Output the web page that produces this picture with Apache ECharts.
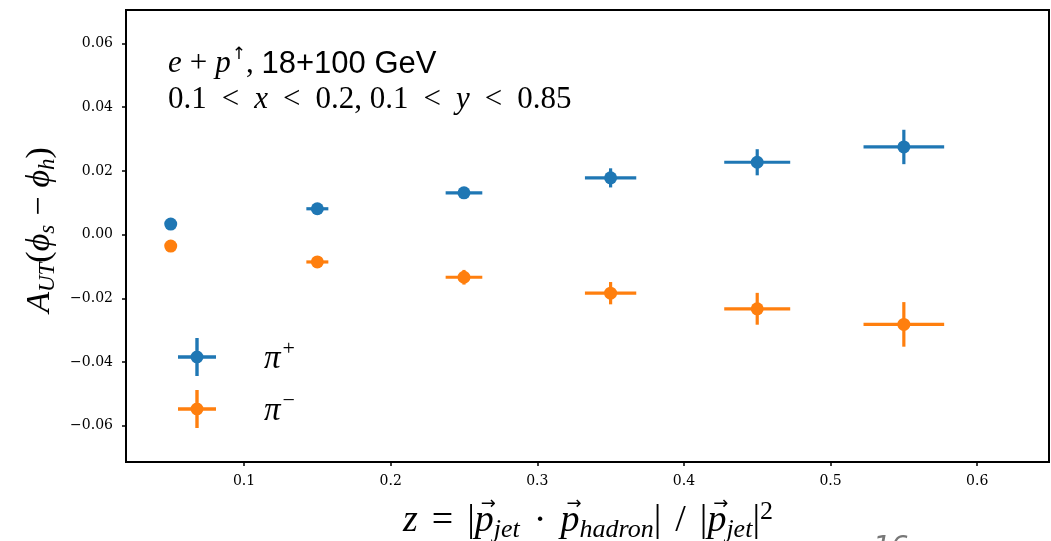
<!DOCTYPE html>
<html>
<head>
<meta charset="utf-8">
<script src="https://cdn.jsdelivr.net/npm/echarts@6/dist/echarts.min.js"></script>
<style>
html,body{margin:0;padding:0;background:#fff;}
#main{width:1051px;height:541px;}
</style>
</head>
<body>
<div id="main"></div>
<script>
// z bins and half widths
var zVals = [0.05, 0.15, 0.25, 0.35, 0.45, 0.55];
var zErr = [0.0025, 0.0075, 0.0125, 0.0175, 0.0225, 0.0275];
// pi+ asymmetry
var piPlusVals = [0.0033, 0.0081, 0.0131, 0.0178, 0.0227, 0.0275];
var piPlusErr = [0.0006, 0.0012, 0.0018, 0.0030, 0.0041, 0.0054];
// pi- asymmetry
var piMinusVals = [-0.0036, -0.0086, -0.0134, -0.0184, -0.0233, -0.0282];
var piMinusErr = [0.0007, 0.0014, 0.0023, 0.0035, 0.0050, 0.0070];
// tick labels
var xTicks = [0.1, 0.2, 0.3, 0.4, 0.5, 0.6];
var yTicks = [-0.06, -0.04, -0.02, 0.00, 0.02, 0.04, 0.06];

var blue = '#1f77b4', orange = '#ff7f0e';
var serif = 'Liberation Serif';
var tickFont = 'DejaVu Serif';

function buildData(ys, yerr){
	var out = [];
	for(var i=0;i<zVals.length;i++){
		out.push([zVals[i], ys[i], zErr[i], yerr[i]]);
	}
	return out;
}

// errorbar + dot
function renderErr(params, api){
	var x = api.value(0), y = api.value(1), xe = api.value(2), ye = api.value(3);
	var c = api.coord([x, y]);
	var l = api.coord([x - xe, y]), r = api.coord([x + xe, y]);
	var t = api.coord([x, y + ye]), b = api.coord([x, y - ye]);
	var color = api.visual('color');
	return {type:'group', children:[
		{type:'line', shape:{x1:l[0], y1:c[1], x2:r[0], y2:c[1]}, style:{stroke:color, lineWidth:3.2}},
		{type:'line', shape:{x1:c[0], y1:t[1], x2:c[0], y2:b[1]}, style:{stroke:color, lineWidth:3.2}},
		{type:'circle', shape:{cx:c[0], cy:c[1], r:6.5}, style:{fill:color}}
	]};
}

function fmtY(v){
	return v.toFixed(2).replace('-', '\u2212');
}

var iconPath = 'path://M0,17.3H38V20.7H0Z M17.3,0H20.7V38H17.3Z M25.5,19A6.5,6.5 0 1,1 12.5,19A6.5,6.5 0 1,1 25.5,19Z';

// rich text styles for math-like labels, size = main font size
function mathStyles(sz, binPad){
	var lh = Math.round(sz * 1.16), sb = Math.round(sz * 0.68);
	return {
		i:{fontFamily:serif, fontStyle:'italic', fontSize:sz, color:'#000', lineHeight:lh},
		r:{fontFamily:serif, fontSize:sz, color:'#000', lineHeight:lh},
		bin:{fontFamily:serif, fontSize:sz, color:'#000', lineHeight:lh, padding:[0,binPad,0,binPad]},
		rel:{fontFamily:serif, fontSize:sz, color:'#000', lineHeight:lh, padding:[0,15,0,15]},
		sub:{fontFamily:serif, fontStyle:'italic', fontSize:sb, color:'#000', lineHeight:lh, verticalAlign:'bottom'},
		sup:{fontFamily:serif, fontSize:sb, color:'#000', lineHeight:lh, verticalAlign:'top'},
		a:{fontFamily:'DejaVu Sans', fontSize:17, color:'#8b1a1a', lineHeight:lh, verticalAlign:'top', padding:[0,0,0,1]},
		s:{fontFamily:'Liberation Sans', fontSize:sz, color:'#000', lineHeight:lh}
	};
}
var noteRich = mathStyles(31, 8);
var yTitleRich = mathStyles(34, 9);
var xTitleRich = mathStyles(38, 14);

// measure a rich token the same way the canvas does
var measureCtx = document.createElement('canvas').getContext('2d');
function tokenWidth(rich, name, text){
	var st = rich[name];
	measureCtx.font = (st.fontStyle || 'normal') + ' normal ' + st.fontSize + 'px ' + st.fontFamily;
	var w = measureCtx.measureText(text).width;
	if(st.padding) w += st.padding[1] + st.padding[3];
	return w;
}

// x axis title, with vector arrows over the p's
var xTitleTokens = [['i','z'],['bin','='],['r','|'],['i','p',1],['sub','jet'],['bin','\u00b7'],['i','p',1],['sub','hadron'],['r','|'],['bin','/'],['r','|'],['i','p',1],['sub','jet'],['r','|'],['sup','2']];
var xTitleCx = 588, xTitleCy = 521;
function buildXTitle(){
	var txt = '', total = 0, arrows = [], i;
	for(i=0;i<xTitleTokens.length;i++){
		total += tokenWidth(xTitleRich, xTitleTokens[i][0], xTitleTokens[i][1]);
	}
	var x = xTitleCx - total/2;
	for(i=0;i<xTitleTokens.length;i++){
		var tk = xTitleTokens[i];
		var w = tokenWidth(xTitleRich, tk[0], tk[1]);
		txt += '{' + tk[0] + '|' + tk[1] + '}';
		if(tk[2]){
			arrows.push({type:'text', x:x + w/2 + 4, y:xTitleCy - 17, style:{
				text:'\u2192', fontFamily:'DejaVu Sans', fontSize:18, fill:'#000', align:'center', verticalAlign:'middle'}});
		}
		x += w;
	}
	return [{type:'text', x:xTitleCx, y:xTitleCy, style:{text:txt, rich:xTitleRich, align:'center', verticalAlign:'middle'}}].concat(arrows);
}

var chart = echarts.init(document.getElementById('main'));
var option = {
	animation:false,
	backgroundColor:'#fff',
	grid:{left:126, right:2, top:10, bottom:79, show:true, borderColor:'#000', borderWidth:2, backgroundColor:'transparent'},
	xAxis:{
		type:'value', min:0.0195, max:0.649,
		axisLine:{show:true, onZero:false, lineStyle:{color:'#000', width:2}},
		axisTick:{show:true, length:4, lineStyle:{color:'#000', width:1.5}, customValues:xTicks},
		axisLabel:{customValues:xTicks, margin:12, fontFamily:tickFont, fontSize:14, color:'#000',
			formatter:function(v){return v.toFixed(1);}},
		splitLine:{show:false}
	},
	yAxis:{
		type:'value', min:-0.0714, max:0.0705,
		axisLine:{show:true, onZero:false, lineStyle:{color:'#000', width:2}},
		axisTick:{show:true, length:4, lineStyle:{color:'#000', width:1.5}, customValues:yTicks},
		axisLabel:{customValues:yTicks, margin:13, fontFamily:tickFont, fontSize:14, color:'#000', formatter:fmtY},
		splitLine:{show:false}
	},
	legend:{
		orient:'vertical', left:173, top:333, itemWidth:38, itemHeight:38, itemGap:14,
		data:[{name:'pip', icon:iconPath}, {name:'pim', icon:iconPath}],
		formatter:function(name){
			return name === 'pip' ? '{g|}{p|\u03c0}{s|+}' : '{g|}{p|\u03c0}{s|\u2212}';
		},
		textStyle:{
			rich:{
				g:{width:43},
				p:{fontFamily:serif, fontStyle:'italic', fontSize:33, color:'#000', lineHeight:38, verticalAlign:'bottom'},
				s:{fontFamily:serif, fontSize:22, color:'#000', verticalAlign:'top', lineHeight:22, padding:[0,0,0,2]}
			}
		}
	},
	series:[
		{name:'pip', type:'custom', renderItem:renderErr, itemStyle:{color:blue}, data:buildData(piPlusVals, piPlusErr), encode:{x:0, y:1}},
		{name:'pim', type:'custom', renderItem:renderErr, itemStyle:{color:orange}, data:buildData(piMinusVals, piMinusErr), encode:{x:0, y:1}}
	],
	graphic:[
		{type:'text', left:168, top:46, style:{
			text:'{i|e}{bin|+}{i|p}{a|\u2191}{r|, }{s|18+100 GeV}\n{r|0.1}{rel|<}{i|x}{rel|<}{r|0.2, 0.1}{rel|<}{i|y}{rel|<}{r|0.85}',
			rich:noteRich}},
		{type:'text', x:40, y:230, rotation:Math.PI/2, style:{
			text:'{i|A}{sub|UT}{r|(}{i|\u03d5}{sub|s}{bin|\u2212}{i|\u03d5}{sub|h}{r|)}',
			rich:yTitleRich, align:'center', verticalAlign:'middle'}},
		{type:'text', x:873, y:535, style:{text:'16', fontFamily:'DejaVu Sans', fontStyle:'italic', fontSize:28, fill:'#777'}}
	].concat(buildXTitle())
};
chart.setOption(option);
</script>
</body>
</html>
